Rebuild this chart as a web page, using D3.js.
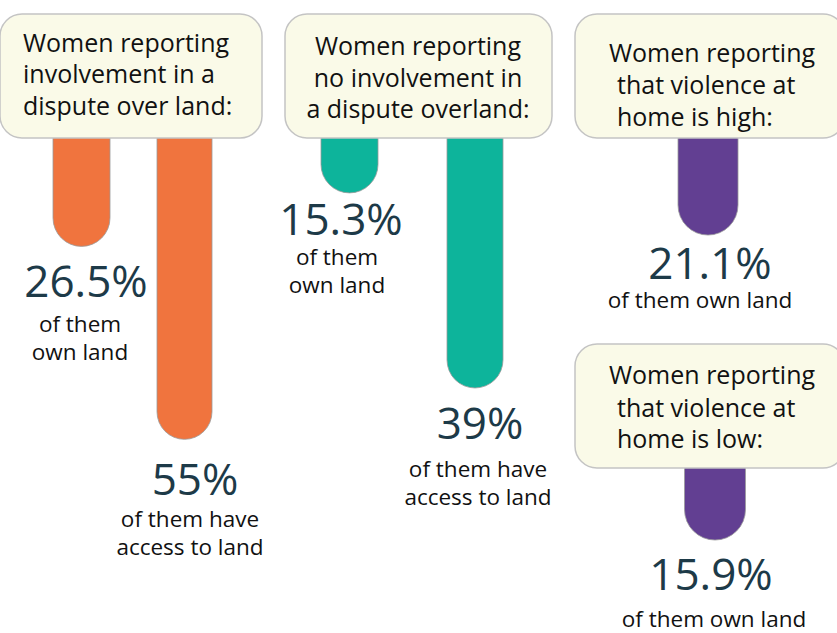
<!DOCTYPE html>
<html>
<head>
<meta charset="utf-8">
<script src="https://cdn.jsdelivr.net/npm/d3@7"></script>
<style>
  body { margin: 0; background: #fff; }
  svg { display: block; font-family: "Open Sans", "Noto Sans", sans-serif; }
</style>
</head>
<body>
<svg id="chart" width="837" height="633"></svg>
<script>
// data
const panelTitles = [
  ["Women reporting", "involvement in a", "dispute over land:"],
  ["Women reporting", "no involvement in", "a dispute overland:"],
  ["Women reporting", "that violence at", "home is high:"],
  ["Women reporting", "that violence at", "home is low:"]
];
const barPanel = [0, 0, 1, 1, 2, 3];
const barValues = [26.5, 55, 15.3, 39, 21.1, 15.9];
const barCaptions = [
  ["of them", "own land"],
  ["of them have", "access to land"],
  ["of them", "own land"],
  ["of them have", "access to land"],
  ["of them own land"],
  ["of them own land"]
];
const panelColors = ["#f0743e", "#0db49b", "#623f92", "#623f92"];

// layout
const panels = [
  {x: 0,   y: 14,  w: 262, h: 124, anchor: "start",  tx: [23, 23, 23],    ty: [52, 83, 115],   y0: 67,  unit: 6.77},
  {x: 285, y: 14,  w: 267, h: 124, anchor: "middle", tx: [418, 418, 418], ty: [55, 87, 118],   y0: 67,  unit: 8.23},
  {x: 575, y: 14,  w: 270, h: 124, anchor: "start",  tx: [609, 617, 617], ty: [62, 94, 126],   y0: 138, unit: 4.6},
  {x: 575, y: 344, w: 270, h: 124, anchor: "start",  tx: [609, 617, 617], ty: [384, 417, 448], y0: 468, unit: 4.53}
];
const bars = [
  {cx: 81.5, w: 57, numX: 86,  capX: 80,  numDy: 51, capDy: [35, 63]},
  {cx: 184.5, w: 55, numX: 195, capX: 190, numDy: 56, capDy: [32, 60]},
  {cx: 349.5, w: 57, numX: 341, capX: 337, numDy: 42, capDy: [30, 58]},
  {cx: 475, w: 56, numX: 480, capX: 478, numDy: 51, capDy: [38, 66]},
  {cx: 708, w: 60, numX: 710, capX: 700, numDy: 44, capDy: [29]},
  {cx: 715, w: 61, numX: 711, capX: 714, numDy: 50, capDy: [37]}
];

const svg = d3.select("#chart");

// one vertical scale per panel
const yScales = panels.map(p => d3.scaleLinear().domain([0, 100]).range([p.y0, p.y0 + p.unit * 100]));

// bars go first, their tops hide behind the boxes
const barG = svg.append("g").attr("id", "bars");
barValues.forEach((v, i) => {
  const p = panels[barPanel[i]];
  const b = bars[i];
  const y = yScales[barPanel[i]];
  const top = p.y + 20;
  barG.append("rect")
    .attr("x", b.cx - b.w / 2)
    .attr("y", top)
    .attr("width", b.w)
    .attr("height", y(v) - top)
    .attr("rx", b.w / 2)
    .attr("fill", panelColors[barPanel[i]])
    .attr("stroke", "#9a9a9a")
    .attr("stroke-width", 0.8);
});

const boxG = svg.append("g").attr("id", "boxes");
panels.forEach((p, i) => {
  boxG.append("rect")
    .attr("x", p.x)
    .attr("y", p.y)
    .attr("width", p.w)
    .attr("height", p.h)
    .attr("rx", 22)
    .attr("fill", "#fafae8")
    .attr("stroke", "#c4c4c4")
    .attr("stroke-width", 1.5);
  panelTitles[i].forEach((line, j) => {
    boxG.append("text")
      .attr("x", p.tx[j])
      .attr("y", p.ty[j])
      .attr("text-anchor", p.anchor)
      .attr("font-size", 25)
      .attr("fill", "#111")
      .text(line);
  });
});

const labelG = svg.append("g").attr("id", "labels");
barValues.forEach((v, i) => {
  const b = bars[i];
  const bottom = yScales[barPanel[i]](v);
  const base = bottom + b.numDy;
  labelG.append("text")
    .attr("x", b.numX)
    .attr("y", base)
    .attr("text-anchor", "middle")
    .attr("font-size", 44)
    .attr("fill", "#1d3a48")
    .text(v + "%");
  barCaptions[i].forEach((line, j) => {
    labelG.append("text")
      .attr("x", b.capX)
      .attr("y", base + b.capDy[j])
      .attr("text-anchor", "middle")
      .attr("font-size", 22.5)
      .attr("fill", "#111")
      .text(line);
  });
});
</script>
</body>
</html>
